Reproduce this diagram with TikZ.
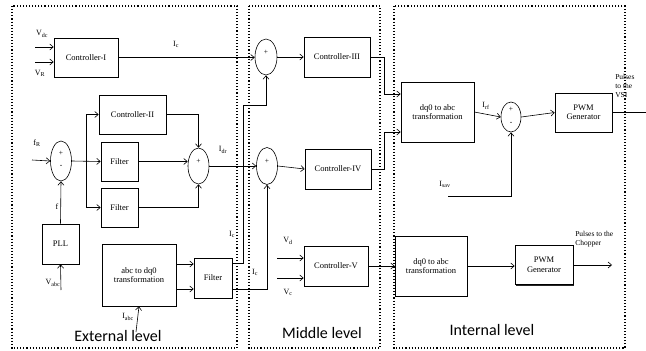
\documentclass[tikz,border=0pt]{standalone}
\usepackage{fontspec}
\setmainfont{Liberation Serif}
\newfontfamily\lvlfont{Carlito}
\usetikzlibrary{shapes.geometric,arrows.meta,shadows}
\begin{document}
\begin{tikzpicture}[x=1pt,y=-1pt,font=\fontsize{8.5}{9.5}\selectfont,line width=0.6pt,
	>={Straight Barb[length=3.5pt,width=6pt]},
	blk/.style={draw,fill=white,align=center,inner sep=1pt,drop shadow={shadow xshift=1.2pt,shadow yshift=-1.2pt,opacity=1,fill=black!85}},
	sum/.style={draw,ellipse,inner sep=0pt},
	frame/.style={dotted,line width=1.1pt},
	lab/.style={font=\fontsize{8}{9}\selectfont,inner sep=0pt},
	sig/.style={font=\fontsize{7.5}{8}\selectfont,inner sep=0pt},
	lvl/.style={font=\lvlfont\fontsize{16}{18}\selectfont}]
	\useasboundingbox (0,0) rectangle (646,351);
	\draw[frame] (12,6) rectangle (237,348) (249,6) rectangle (380,348) (394,6) rectangle (625,348);
	% blocks
	\foreach \n/\x/\y/\w/\h/\t in {c1/86/57.5/64/39/Controller-I,c2/132.5/114.5/67/39/Controller-II,f1/119.5/161.5/37/39/Filter,f2/119.5/207.5/37/39/Filter,pll/60.5/244/37/40/PLL,abc/139/275/74/62/{abc to dq0\\transformation},f3/213/278/38/40/Filter,c3/337/57/66/40/Controller-III,c4/338/169/66/40/Controller-IV,c5/336/266/64/40/Controller-V,dq1/437.5/112/73/60/{dq0 to abc\\transformation},pwm1/583.5/112.5/57/39/{PWM\\Generator},dq2/431/266/72/60/{dq0 to abc\\transformation},pwm2/544/265/58/39/{PWM\\Generator}}
		\node[blk,minimum width=\w pt,minimum height=\h pt] (\n) at (\x,\y) {\t};
	\foreach \n/\x/\y/\w/\h in {s1/61/161/21/40,s2/198.5/166/21/36,s3/266/57/22/36,s4/267/166/21/37,s5/511/117/20/30}
		\node[sum,minimum width=\w pt,minimum height=\h pt] (\n) at (\x,\y) {};
	\foreach \n/\d/\t/\m in {s1/8/+/p,s1/-5/-/m,s2/5/+/p,s3/5/+/p,s4/5/+/p,s5/8/+/p,s5/-6/-/m}
		\node[sig] (\n\m) at ([yshift=\d pt]\n.center) {\t};
	\path (35,47) coordinate (vdc) (35,62) coordinate (vr) (32,160) coordinate (fr) (86,161) coordinate (br)
		(61,290) coordinate (vabc) (136,332) coordinate (iabc) (243,105) coordinate (ic)
		(448,196) coordinate (isav) (277,258) coordinate (vd) (277,278) coordinate (vc)
		(646,112.5) coordinate (vsi) (612,265) coordinate (chop);
	% external level
	\draw[->] (vdc) -- (vdc -| c1.west);
	\draw[->] (vr) -- (vr -| c1.west);
	\draw[->] (c1.east) -- (c1.east -| s3.west);
	\draw[->] (fr) -- (s1.west);
	\draw[->] (s1.east) -- (f1.west);
	\draw[->] (br) |- (c2.west);
	\draw[->] (br) |- (f2.west);
	\draw[->] (c2.east) -| (s2.north);
	\draw[->] (f1.east) -- (f1.east -| s2.west);
	\draw[->] (f2.east) -| (s2.south);
	\draw[->] (pll.north) -- (s1.south);
	\draw[->] (vabc) -- (pll.south);
	\draw[->] (iabc) -- (abc.south);
	\draw[->] ([yshift=11pt]abc.east) -- ([yshift=11pt]abc.east -| f3.west);
	\draw[->] ([yshift=-14pt]abc.east) -- ([yshift=-14pt]abc.east -| f3.west);
	\draw[->] ([yshift=15pt]f3.east) -| (ic) -| (s3.south);
	\draw[->] ([yshift=-11pt]f3.east) -| (s4.south);
	\draw[->] (s2.east) -- (s4.west);
	% middle level
	\draw[->] (s3.east) -- (c3.west);
	\draw[->] (s4.east) -- (c4.west);
	\draw[->] (vd) -- (vd -| c5.west);
	\draw[->] (vc) -- (vc -| c5.west);
	\draw[->] (c3.east) -| ([xshift=-16pt,yshift=18pt]dq1.west) -- ([yshift=18pt]dq1.west);
	\draw[->] (c4.east) -| ([xshift=-16pt,yshift=-20pt]dq1.west) -- ([yshift=-20pt]dq1.west);
	\draw[->] (c5.east) -- (c5.east -| dq2.west);
	% internal level
	\draw[->] (dq1.east) -- (s5.west);
	\draw[->] (s5.east) -- (pwm1.west);
	\draw (pwm1.east) -- (vsi);
	\draw[->] (isav) -| (s5.south);
	\draw[->] (dq2.east) -- (dq2.east -| pwm2.west);
	\draw[->] (pwm2.east) -- (chop);
	% labels
	\foreach \n/\x/\y/\t in {lvdc/42/34/V\textsubscript{dc},lvr/40/73/V\textsubscript{R},lic1/176/44/I\textsubscript{c},lfr/37/143/f\textsubscript{R},lf/57/207/f,lvabc/53/283/V\textsubscript{abc},liabc/128/317/I\textsubscript{abc},lidr/223/150/I\textsubscript{dr},lic2/232/234/I\textsubscript{c},lic3/255/272/I\textsubscript{c},lvd/288/241/V\textsubscript{d},lvc/288/292/V\textsubscript{c},lirf/486/106/I\textsubscript{rf},lisav/445/184/I\textsubscript{sav}}
		\node[lab] (\n) at (\x,\y) {\t};
	\node[lab,font=\fontsize{7.5}{9}\selectfont,align=left,anchor=north west] (lvsi) at (615,74) {Pulses\\to the\\VSI};
	\node[lab,font=\fontsize{7.5}{9}\selectfont,align=left,anchor=north west] (lchop) at (575,231) {Pulses to the\\Chopper};
	\node[lvl] (lext) at (118,336) {External level};
	\node[lvl] (lmid) at (322,333) {Middle level};
	\node[lvl] (lint) at (492,330) {Internal level};
\end{tikzpicture}
\end{document}
